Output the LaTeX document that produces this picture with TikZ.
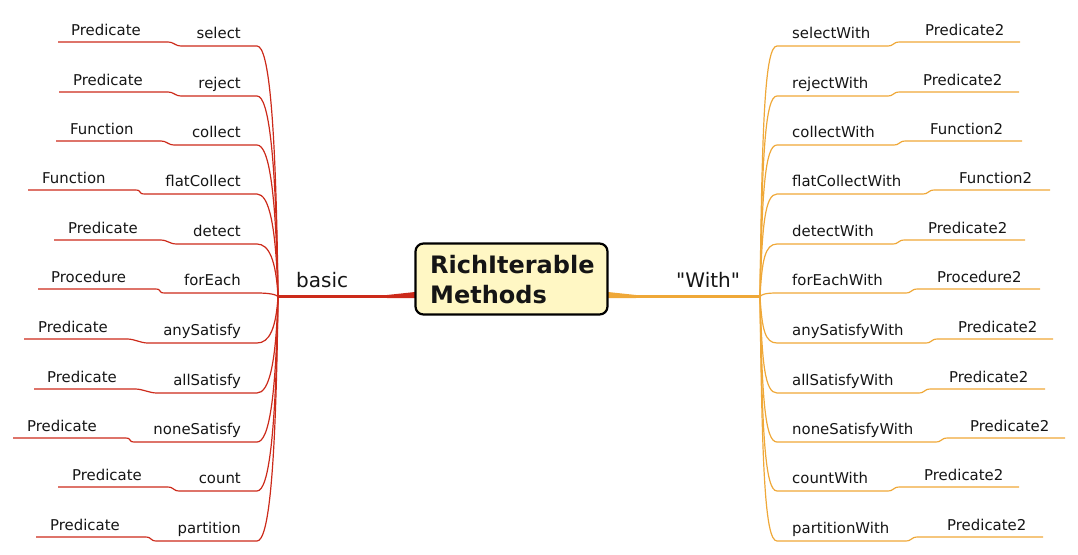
\documentclass[tikz,border=0pt]{standalone}
\usepackage{fontspec}
\setmainfont{DejaVu Sans}
\newfontfamily\qfont[Ligatures=TeXOff]{DejaVu Sans}
\usetikzlibrary{calc}
\definecolor{lred}{HTML}{CC2A1A}
\definecolor{lorange}{HTML}{EFA838}
\definecolor{boxfill}{HTML}{FFF7C4}
\definecolor{txt}{HTML}{151515}
\begin{document}
\begin{tikzpicture}[x=1pt,y=-1pt,
  lbl/.style={font=\fontsize{14.9}{17}\selectfont, text=txt, inner sep=0pt},
  biglbl/.style={font=\fontsize{20}{24}\selectfont, text=txt, inner sep=0pt, anchor=base west},
  titlelbl/.style={font=\fontsize{24}{30}\selectfont\bfseries, text=txt, inner sep=0pt, anchor=base west},
  redline/.style={draw=lred, line width=1.2pt},
  ornline/.style={draw=lorange, line width=1.2pt},
  mainred/.style={draw=lred, line width=3pt},
  mainorn/.style={draw=lorange, line width=3pt},
]
\useasboundingbox (0,0) rectangle (1078,554);
\coordinate (hubL) at (278,296.5);
\coordinate (hubR) at (760,296.5);
\coordinate (boxW) at (415,296.5);
\coordinate (boxE) at (608,296.5);
% main branches
\draw[mainred] (hubL) -- (boxW);
\fill[lred] (boxW) ++(0,-4.5) -- ++(-28,3) -- ++(0,3) -- ++(28,0) -- cycle;
\draw[mainorn] (boxE) -- (hubR);
\fill[lorange] (boxE) ++(0,-4.5) -- ++(28,3) -- ++(0,3) -- ++(-28,0) -- cycle;
% central box
\node[draw=black, line width=2.2pt, rounded corners=8pt, fill=boxfill,
      minimum width=192pt, minimum height=71pt, inner sep=0pt] (title) at (511.5,279) {};
\node[titlelbl] (t1) at (430,273) {RichIterable};
\node[titlelbl] (t2) at (430,303) {Methods};
\node[biglbl] (basic) at (296,287) {basic};
\node[biglbl] (with) at (676,287) {\qfont "With"};
% left rows
\foreach \i/\y/\m/\ms/\p/\pt/\pl/\pr in {
  1/46/select/182/Predicate/71/58/167,
  2/96/reject/182/Predicate/73/59/167,
  3/145/collect/175/Function/70/56/160,
  4/194/flatCollect/145/Function/42/28/135,
  5/244/detect/177/Predicate/68/54/160,
  6/293/forEach/165/Procedure/51/38/155,
  7/343/anySatisfy/148/Predicate/38/24/127,
  8/393/allSatisfy/157/Predicate/47/34/135,
  9/442/noneSatisfy/135/Predicate/27/13/125,
  10/491/count/180/Predicate/72/58/167,
  11/541/partition/157/Predicate/50/36/145} {
  \coordinate (la\i) at (257,\y);
  \coordinate (lb\i) at (\ms,\y);
  \coordinate (lc\i) at (\pr,\y-4);
  \coordinate (ld\i) at (\pl,\y-4);
  \node[lbl, anchor=base east] (lm\i) at (241,\y-8) {\m};
  \node[lbl, anchor=base west] (lp\i) at (\pt,\y-11) {\p};
  \draw[redline] (hubL) .. controls +(-2,{(\y-296)*0.7}) and +(12,0) .. (la\i)
     -- (lb\i) .. controls +(-8,0) and +(8,0) .. (lc\i) -- (ld\i);
}
% right rows
\foreach \i/\y/\m/\me/\p/\pt/\pl/\pr in {
  1/46/selectWith/887/Predicate2/925/900/1020,
  2/96/rejectWith/887/Predicate2/923/900/1019,
  3/145/collectWith/893/Function2/930/906/1022,
  4/194/flatCollectWith/922/Function2/959/935/1050,
  5/244/detectWith/892/Predicate2/928/905/1025,
  6/293/forEachWith/905/Procedure2/937/918/1040,
  7/343/anySatisfyWith/925/Predicate2/958/938/1053,
  8/393/allSatisfyWith/918/Predicate2/949/931/1045,
  9/442/noneSatisfyWith/935/Predicate2/970/948/1065,
  10/491/countWith/887/Predicate2/924/900/1019,
  11/541/partitionWith/905/Predicate2/947/918/1043} {
  \coordinate (ra\i) at (777,\y);
  \coordinate (rb\i) at (\me,\y);
  \coordinate (rc\i) at (\pl,\y-4);
  \coordinate (rd\i) at (\pr,\y-4);
  \node[lbl, anchor=base west] (rm\i) at (792,\y-8) {\m};
  \node[lbl, anchor=base west] (rp\i) at (\pt,\y-11) {\p};
  \draw[ornline] (hubR) .. controls +(2,{(\y-296)*0.7}) and +(-12,0) .. (ra\i)
     -- (rb\i) .. controls +(8,0) and +(-8,0) .. (rc\i) -- (rd\i);
}
\end{tikzpicture}
\end{document}
